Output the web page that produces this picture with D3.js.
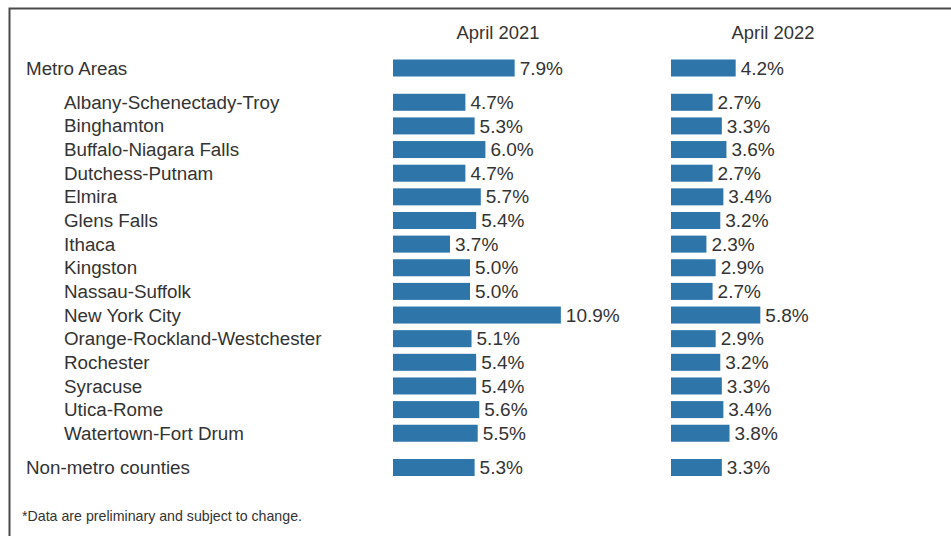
<!DOCTYPE html>
<html>
<head>
<meta charset="utf-8">
<script src="https://cdn.jsdelivr.net/npm/d3@7"></script>
<style>
  body { margin: 0; background: #fff; }
  svg text { font-family: "Liberation Sans", Arial, sans-serif; fill: #333; }
</style>
</head>
<body>
<svg id="chart" width="951" height="536"></svg>
<script>
// data
var areas = ["Metro Areas", "Albany-Schenectady-Troy", "Binghamton", "Buffalo-Niagara Falls",
  "Dutchess-Putnam", "Elmira", "Glens Falls", "Ithaca", "Kingston", "Nassau-Suffolk",
  "New York City", "Orange-Rockland-Westchester", "Rochester", "Syracuse", "Utica-Rome",
  "Watertown-Fort Drum", "Non-metro counties"];
var apr2021 = [7.9, 4.7, 5.3, 6.0, 4.7, 5.7, 5.4, 3.7, 5.0, 5.0, 10.9, 5.1, 5.4, 5.4, 5.6, 5.5, 5.3];
var apr2022 = [4.2, 2.7, 3.3, 3.6, 2.7, 3.4, 3.2, 2.3, 2.9, 2.7, 5.8, 2.9, 3.2, 3.3, 3.4, 3.8, 3.3];
var columns = ["April 2021", "April 2022"];
var footnote = "*Data are preliminary and subject to change.";

var svg = d3.select("#chart");

// frame (left + top line only)
svg.append("path")
  .attr("d", "M9.5,536 V8.5 H951")
  .attr("fill", "none")
  .attr("stroke", "#4a4a4a")
  .attr("stroke-width", 2);

// slot position of each row: extra gap after "Metro Areas" and before "Non-metro counties"
function slot(i) {
  if (i === 0) return 0;
  if (i === areas.length - 1) return (areas.length - 3) + 2 * 1.45;
  return (i - 1) + 1.45;
}
var y = d3.scaleLinear().domain([0, 1]).range([68, 68 + 23.64]);
var x = d3.scaleLinear().domain([0, 1]).range([0, 15.4]);
var colX = [393, 671];
var barH = 17;

var rows = areas.map(function(name, i) {
  return { name: name, i: i, vals: [apr2021[i], apr2022[i]] };
});

// category labels
svg.selectAll(".cat")
  .data(rows)
  .enter().append("text")
  .attr("class", "cat")
  .attr("x", function(d) { return (d.i === 0 || d.i === areas.length - 1) ? 26 : 64; })
  .attr("y", function(d) { return y(slot(d.i)); })
  .attr("dy", "0.35em")
  .style("font-size", "18.8px")
  .text(function(d) { return d.name; });

// column headers
svg.selectAll(".head")
  .data(columns)
  .enter().append("text")
  .attr("class", "head")
  .attr("x", function(d, k) { return k === 0 ? 498 : 773; })
  .attr("y", 33)
  .attr("dy", "0.35em")
  .attr("text-anchor", "middle")
  .style("font-size", "18.4px")
  .text(function(d) { return d; });

// bars and value labels for each column
columns.forEach(function(col, k) {
  var g = svg.append("g").attr("transform", "translate(" + colX[k] + ",0)");

  g.selectAll("rect")
    .data(rows)
    .enter().append("rect")
    .attr("x", 0)
    .attr("y", function(d) { return y(slot(d.i)) - barH / 2; })
    .attr("width", function(d) { return x(d.vals[k]); })
    .attr("height", barH)
    .attr("fill", "#2e75aa");

  g.selectAll(".val")
    .data(rows)
    .enter().append("text")
    .attr("class", "val")
    .attr("x", function(d) { return x(d.vals[k]) + 5; })
    .attr("y", function(d) { return y(slot(d.i)); })
    .attr("dy", "0.35em")
    .style("font-size", "19px")
    .text(function(d) { return d.vals[k].toFixed(1) + "%"; });
});

svg.append("text")
  .attr("x", 22)
  .attr("y", 516)
  .attr("dy", "0.35em")
  .style("font-size", "14.2px")
  .text(footnote);
</script>
</body>
</html>
